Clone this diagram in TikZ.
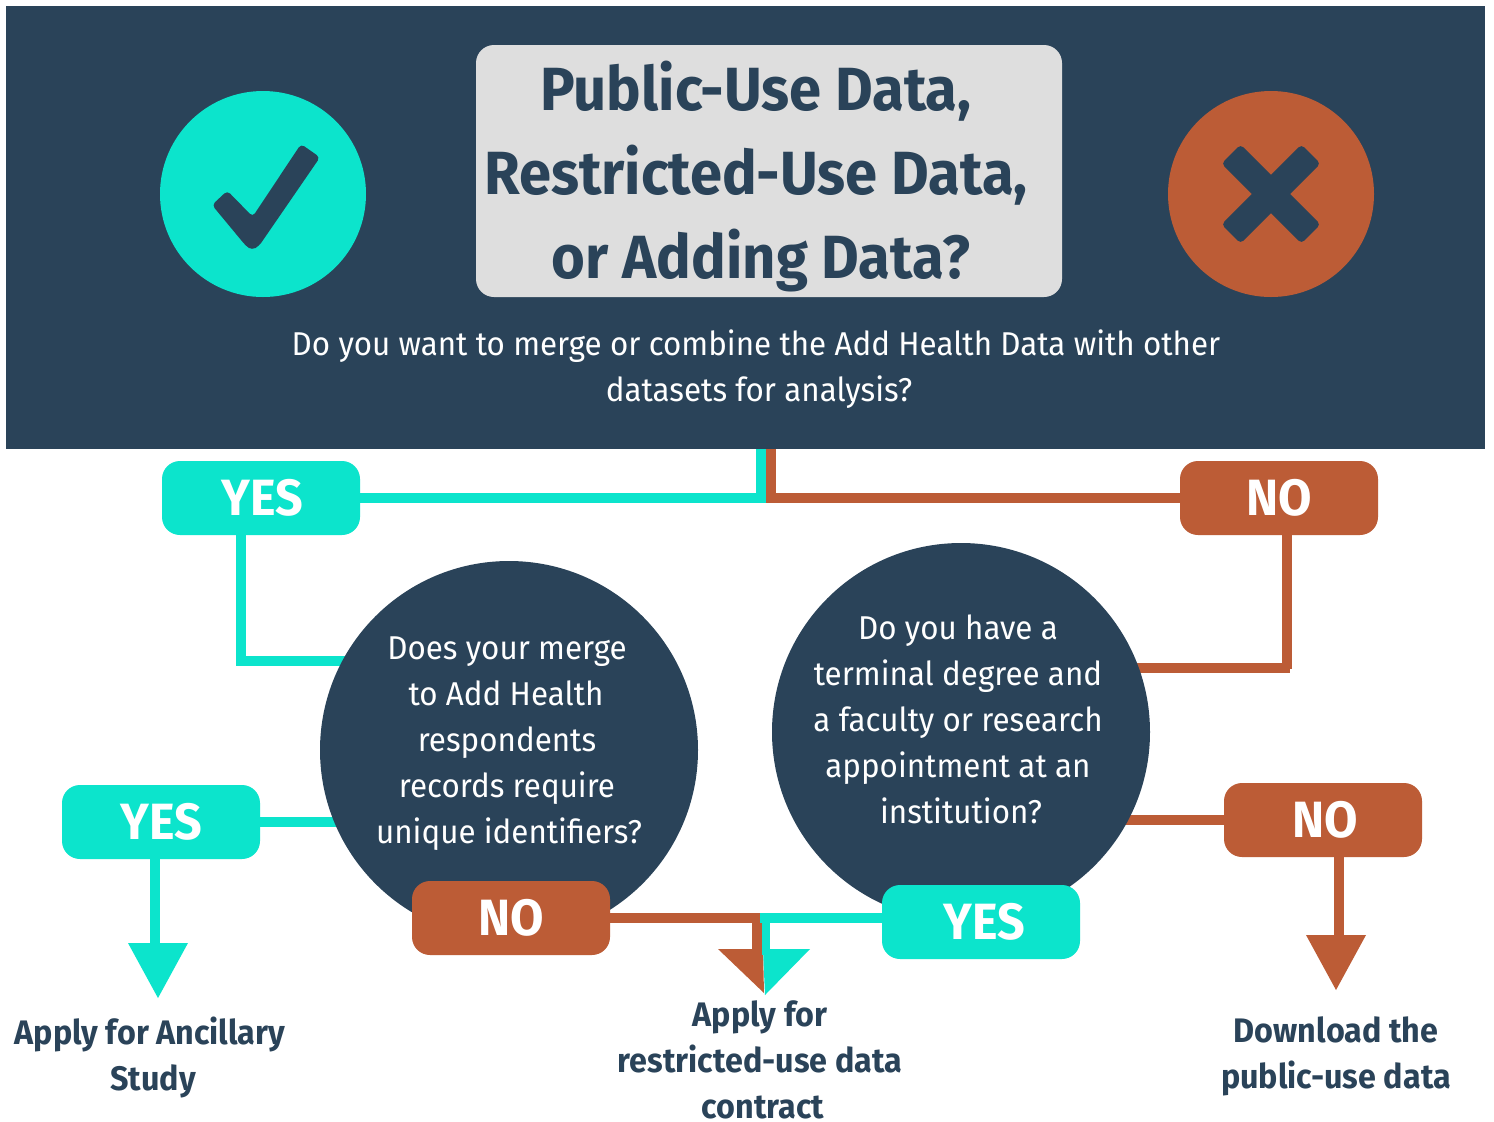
\documentclass[tikz,border=0pt]{standalone}
\usepackage{fontspec}
\setmainfont{Fira Sans}[FakeStretch=0.95]
\usetikzlibrary{backgrounds,calc}
\definecolor{navy}{HTML}{2A4359}
\definecolor{tealc}{HTML}{0CE4CC}
\definecolor{rust}{HTML}{BC5C36}
\definecolor{lgrey}{HTML}{DEDEDE}
\newcommand{\badgetext}[1]{\raisebox{-1pt}{#1}}
\tikzset{
  badge/.style={minimum width=99pt,minimum height=37pt,rounded corners=9pt,inner sep=0pt,text=white,font=\fontsize{25.5}{25.5}\selectfont\bfseries},
  yesbadge/.style={badge,fill=tealc},
  nobadge/.style={badge,fill=rust},
  bubble/.style={circle,fill=navy,minimum size=189pt,inner sep=0pt},
  bodytext/.style={align=center,inner sep=0pt,font=\fontsize{16.5}{23}\selectfont},
  outcome/.style={align=center,inner sep=0pt,text=navy,font=\fontsize{17}{23}\selectfont\bfseries},
  tline/.style={draw=tealc,line width=5pt},
  rline/.style={draw=rust,line width=5pt},
  icon/.style={circle,minimum size=103pt,inner sep=0pt}
}
\begin{document}
\begin{tikzpicture}[x=0.5pt,y=-0.5pt]
\useasboundingbox (0,0) rectangle (1494,1121);
\begin{pgfonlayer}{background}
\fill[white] (0,0) rectangle (1494,1121);
\end{pgfonlayer}
\node[fill=navy,minimum width=739.5pt,minimum height=221.5pt,inner sep=0pt] (header) at (745.5,227.5) {};
\node[fill=lgrey,minimum width=293pt,minimum height=126pt,rounded corners=9pt,inner sep=0pt] (qbox) at (769,171) {};
\node[align=center,inner sep=0pt,text=navy,font=\fontsize{30.5}{42}\selectfont\bfseries] (qtext) at (756,177) {Public-Use Data,\\Restricted-Use Data,\\\hspace*{5pt}or Adding Data?};
\node[bodytext,text=white] (intro) at (756,369) {Do you want to merge or combine the Add Health Data with other\\\hspace*{3pt}datasets for analysis?};
\node[icon,fill=tealc] (okicon) at (263,194) {};
\node[icon,fill=rust] (xicon) at (1271,194) {};
\fill[navy,rounded corners=2pt] (212,205) -- (227.3,190.7) -- (252.7,216.7) -- (301,144) -- (320,157.3) -- (259,246) -- (252,250) -- (246,246) -- cycle;
\fill[navy,rounded corners=2pt,rotate around={45:(1271,194)}] (1214.5,180.5) rectangle (1327.5,207.5);
\fill[navy,rounded corners=2pt,rotate around={-45:(1271,194)}] (1214.5,180.5) rectangle (1327.5,207.5);

\node[bubble] (qa) at (509,750) {};
\node[bubble] (qb) at (961,732) {};
\node[bodytext,text=white] (qatext) at (507,744) {Does your merge\\\hspace*{-1pt}to Add Health\\respondents\\records require\\\hspace*{2pt}unique identifiers?};
\node[bodytext,text=white] (qbtext) at (958,719) {Do you have a\\terminal degree and\\a faculty or research\\appointment at an\\\hspace*{3pt}institution?};

\node[yesbadge] (yesA) at (261,498) {\hspace*{1pt}\badgetext{YES}};
\node[nobadge] (noA) at (1279,498) {\badgetext{NO}};
\node[yesbadge] (yesB) at (161,822) {\badgetext{YES}};
\node[nobadge] (noB) at (511,918) {\badgetext{NO}};
\node[yesbadge] (yesC) at (981,922) {\hspace*{3pt}\badgetext{YES}};
\node[nobadge] (noC) at (1323,820) {\hspace*{2pt}\badgetext{NO}};

\node[outcome] (ancillary) at (150,1057) {Apply for Ancillary\\\hspace*{3pt}Study};
\node[outcome] (contract) at (760,1060) {Apply for\\restricted-use data\\\hspace*{3pt}contract};
\node[outcome] (download) at (1336,1056) {Download the\\public-use data};

\coordinate (tj) at (761,449);
\coordinate (rj) at (771,449);
\coordinate (a1) at (241,535);
\coordinate (a2) at (400,661);
\coordinate (b1) at (1287,535);
\coordinate (b2) at (1287,669);
\coordinate (b3) at (1290,668);
\coordinate (b4) at (1100,668);
\coordinate (c1) at (155,859);
\coordinate (c2) at (155,950);
\coordinate (d1) at (757,918);
\coordinate (d2) at (757,952);
\coordinate (e1) at (766,918);
\coordinate (e2) at (766,955);
\coordinate (f1) at (1339,857);
\coordinate (f2) at (1339,940);
\begin{pgfonlayer}{background}
\draw[tline] (tj) |- (yesA);
\draw[rline] (rj) |- (noA);
\draw[tline] (a1) |- (a2);
\draw[rline] (b1) -- (b2);
\draw[rline] (b4) -- (b3);
\draw[tline] (yesB) -- (yesB -| qa);
\draw[tline] (c1) -- (c2);
\draw[rline] (noC) -- (noC -| qb);
\draw[rline] (f1) -- (f2);
\draw[rline] (noB) -- (d1) -- (d2);
\draw[tline] (yesC.west |- e1) ++(10,0) -- (760,918);
\end{pgfonlayer}
\fill[rust] (718,949) -- (763,949) -- (764,993) -- cycle;
\draw[tline,line width=4pt] (e1) -- (e2);
\fill[tealc] (763,949) -- (810,949) -- (765,995) -- cycle;
\fill[tealc] (128,943) -- (188,943) -- (158,998) -- cycle;
\fill[rust] (1306,935) -- (1366,935) -- (1336,990) -- cycle;
\end{tikzpicture}
\end{document}
